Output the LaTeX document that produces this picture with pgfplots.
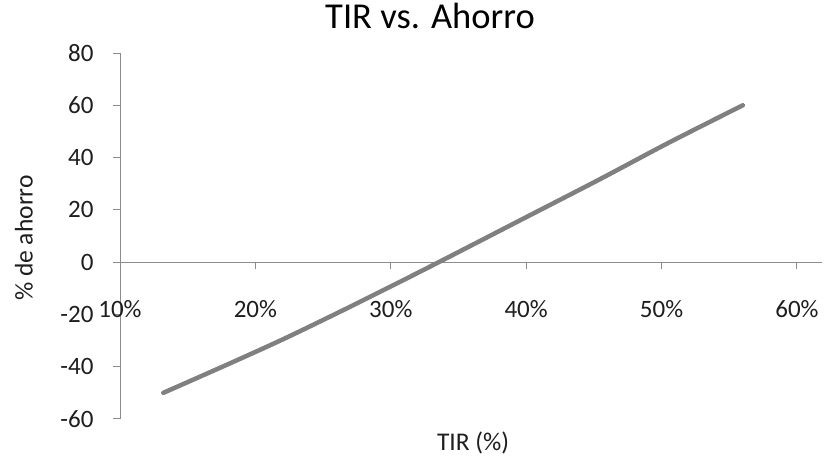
\documentclass[border=0pt]{standalone}
\usepackage{fontspec}
\setmainfont{Carlito}
\usepackage{pgfplots}
\pgfplotsset{compat=1.18}
\definecolor{linegray}{RGB}{128,128,128}
\definecolor{axgray}{RGB}{140,140,140}
\definecolor{txt}{RGB}{30,30,30}
\begin{document}
\begin{tikzpicture}
\path[use as bounding box] (0,0) rectangle (827bp,460bp);
\begin{axis}[
 at={(120bp,41bp)}, anchor=south west,
 scale only axis, width=702bp, height=366bp,
 xmin=0.1, xmax=0.6185, ymin=-60, ymax=80,
 axis x line=middle, axis y line=left,
 axis line style={-, draw=axgray, line width=1bp},
 xtick={0.1,0.2,0.3,0.4,0.5,0.6},
 xticklabels={10\%,20\%,30\%,40\%,50\%,60\%},
 ytick={-60,-40,-20,0,20,40,60,80},
 tick align=outside,
 major tick length=7bp,
 tick style={draw=axgray, line width=1bp},
 hide obscured x ticks=false, hide obscured y ticks=false,
 /pgf/number format/assume math mode=true,
 ticklabel style={font=\fontsize{25bp}{29bp}\selectfont, text=txt},
 xticklabel style={yshift=-28bp},
 yticklabel style={xshift=-16bp},
 xlabel={TIR (\%)},
 xlabel style={at={(axis description cs:0.503,-0.065)}, anchor=center, font=\fontsize{25.5bp}{29bp}\selectfont, text=txt},
 ylabel={\% de ahorro},
 ylabel style={at={(axis description cs:-0.1368,0.4945)}, anchor=center, rotate=0, font=\fontsize{25.5bp}{29bp}\selectfont, text=txt},
 title={TIR vs. Ahorro},
 title style={at={(axis description cs:0.4416,1.085)}, anchor=center, font=\fontsize{36.5bp}{40bp}\selectfont, text=black},
 clip=false,
]
\addplot[linegray, line width=4.5bp, smooth, tension=0.5, line cap=round] coordinates {
 (0.132,-50) (0.180,-39.0) (0.220,-29.6) (0.260,-19.6) (0.300,-9.3)
 (0.340,1.2) (0.400,17.2) (0.454,31.6) (0.505,45.6) (0.560,60)
};
\end{axis}
\end{tikzpicture}
\end{document}
